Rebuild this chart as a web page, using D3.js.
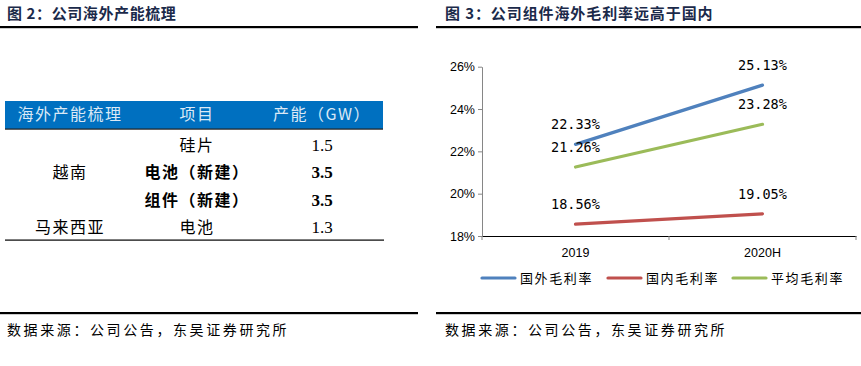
<!DOCTYPE html>
<html><head><meta charset="utf-8">
<script src="https://cdn.jsdelivr.net/npm/d3@7"></script>
<style>
html,body{margin:0;padding:0;background:#fff;}
svg{display:block;}
</style></head>
<body>
<svg id="c" width="861" height="366"></svg>
<script>
// ---- data ----
const leftTitle = "图 2：公司海外产能梳理";
const rightTitle = "图 3：公司组件海外毛利率远高于国内";
const sourceText = "数据来源：公司公告，东吴证券研究所";
const tableHeader = ["海外产能梳理", "项目", "产能（GW）"];
const tableRegions = ["越南", "马来西亚"];
const tableRegionRows = [[0, 2], [3, 3]];
const tableItems = ["硅片", "电池（新建）", "组件（新建）", "电池"];
const tableCapacity = ["1.5", "3.5", "3.5", "1.3"];
const tableBold = [false, true, true, false];

const categories = ["2019", "2020H"];
const seriesNames = ["国外毛利率", "国内毛利率", "平均毛利率"];
const overseas = [22.33, 25.13];
const domestic = [18.56, 19.05];
const average = [21.26, 23.28];
const yTicks = [18, 20, 22, 24, 26];
const seriesColors = ["#4F81BD", "#C0504D", "#9BBB59"];

const svg = d3.select("#c");
const CJK = "'Noto Sans CJK SC', sans-serif";
const titleColor = "#1b2a4a";

// titles & rules
svg.append("text").attr("x", 7).attr("y", 19).text(leftTitle)
  .attr("font-family", CJK).attr("font-weight", "bold").attr("font-size", 15).attr("fill", titleColor).attr("letter-spacing", 0.6);
svg.append("text").attr("x", 445).attr("y", 19).text(rightTitle)
  .attr("font-family", CJK).attr("font-weight", "bold").attr("font-size", 15).attr("fill", titleColor).attr("letter-spacing", 0.9);
svg.append("rect").attr("x", 0).attr("y", 26).attr("width", 418).attr("height", 2.2).attr("fill", "#000");
svg.append("rect").attr("x", 436).attr("y", 26).attr("width", 425).attr("height", 2.2).attr("fill", "#000");
svg.append("rect").attr("x", 0).attr("y", 312).attr("width", 418).attr("height", 2.2).attr("fill", "#000");
svg.append("rect").attr("x", 436).attr("y", 312).attr("width", 425).attr("height", 2.2).attr("fill", "#000");
svg.append("text").attr("x", 7).attr("y", 335).text(sourceText)
  .attr("font-family", CJK).attr("font-size", 14).attr("fill", "#000").attr("letter-spacing", 2.6);
svg.append("text").attr("x", 445).attr("y", 335).text(sourceText)
  .attr("font-family", CJK).attr("font-size", 14).attr("fill", "#000").attr("letter-spacing", 2.6);

// ---- table ----
const tbl = svg.append("g");
const colX = [70, 197, 322];
const rowY = d3.scalePoint().domain(d3.range(tableItems.length)).range([145, 227]);
tbl.append("rect").attr("x", 5).attr("y", 101).attr("width", 378).attr("height", 28).attr("fill", "#0070C0");
tbl.append("rect").attr("x", 5).attr("y", 128.5).attr("width", 378).attr("height", 1.2).attr("fill", "#1f1f1f");
tbl.selectAll("text.h").data(tableHeader).join("text").attr("class", "h")
  .attr("x", (d, i) => colX[i]).attr("y", 120).attr("text-anchor", "middle")
  .attr("font-family", CJK).attr("font-size", 16).attr("fill", "#dbe9f6").attr("letter-spacing", 1.5)
  .text(d => d);
tbl.selectAll("text.it").data(tableItems).join("text").attr("class", "it")
  .attr("x", colX[1]).attr("y", (d, i) => rowY(i) + 6).attr("text-anchor", "middle")
  .attr("font-family", CJK).attr("font-size", 16).attr("font-weight", (d, i) => tableBold[i] ? "bold" : "normal")
  .attr("letter-spacing", 1.5).attr("fill", "#000").text(d => d);
tbl.selectAll("text.cap").data(tableCapacity).join("text").attr("class", "cap")
  .attr("x", colX[2]).attr("y", (d, i) => rowY(i) + 6).attr("text-anchor", "middle")
  .attr("font-family", "'Liberation Serif', serif").attr("font-size", 17).attr("font-weight", (d, i) => tableBold[i] ? "bold" : "normal")
  .attr("fill", "#000").text(d => d);
tbl.selectAll("text.rg").data(tableRegions).join("text").attr("class", "rg")
  .attr("x", colX[0]).attr("y", (d, i) => (rowY(tableRegionRows[i][0]) + rowY(tableRegionRows[i][1])) / 2 + 6)
  .attr("text-anchor", "middle").attr("font-family", CJK).attr("font-size", 16).attr("letter-spacing", 1.5)
  .attr("fill", "#000").text(d => d);
tbl.append("rect").attr("x", 5).attr("y", 239.5).attr("width", 379).attr("height", 1.2).attr("fill", "#000");

// ---- line chart ----
const x = d3.scaleBand().domain(categories).range([482, 856]);
const y = d3.scaleLinear().domain([18, 26]).range([236, 66.7]);
const g = svg.append("g");

const yAxis = g.append("g").attr("transform", "translate(482,0)")
  .call(d3.axisLeft(y).tickValues(yTicks).tickFormat(d => d + "%").tickSize(4).tickSizeOuter(0));
yAxis.select(".domain").attr("stroke", "#868686");
yAxis.selectAll(".tick line").attr("stroke", "#868686");
yAxis.selectAll(".tick text").attr("font-family", "'Liberation Sans', Arial, sans-serif").attr("font-size", 12.5).attr("fill", "#000").attr("x", -7);

const xAxis = g.append("g").attr("transform", "translate(0,236)")
  .call(d3.axisBottom(x).tickSize(0).tickSizeOuter(0));
xAxis.select(".domain").attr("stroke", "#000");
xAxis.selectAll(".tick text").attr("font-family", "'Liberation Sans', Arial, sans-serif").attr("font-size", 12.5).attr("fill", "#000").attr("dy", "0").attr("y", 21);
const bounds = [x.range()[0]].concat(categories.map(c => x(c) + x.bandwidth()));
xAxis.selectAll("line.b").data(bounds).join("line").attr("class", "b")
  .attr("x1", d => d).attr("x2", d => d).attr("y1", 0).attr("y2", 4).attr("stroke", "#868686");

const series = [overseas, domestic, average];
const cx = c => x(c) + x.bandwidth() / 2;
const line = d3.line().x((d, i) => cx(categories[i])).y(d => y(d));
series.forEach((s, k) => {
  g.append("path").datum(s).attr("d", line).attr("fill", "none")
    .attr("stroke", seriesColors[k]).attr("stroke-width", 3.2).attr("stroke-linecap", "round");
  g.selectAll("text.l" + k).data(s).join("text").attr("class", "l" + k)
    .attr("x", (d, i) => cx(categories[i])).attr("y", d => y(d) - 15)
    .attr("text-anchor", "middle").attr("font-family", "'DejaVu Sans Mono', monospace").attr("font-size", 13.5)
    .attr("fill", "#000").text(d => d.toFixed(2) + "%");
});

// legend
const legX = [482, 608, 733];
const leg = g.selectAll("g.leg").data(seriesNames).join("g").attr("class", "leg")
  .attr("transform", (d, i) => `translate(${legX[i]},278)`);
leg.append("line").attr("x1", 0).attr("x2", 33).attr("y1", 0).attr("y2", 0)
  .attr("stroke", (d, i) => seriesColors[i]).attr("stroke-width", 3.2).attr("stroke-linecap", "round");
leg.append("text").attr("x", 38).attr("y", 5).attr("font-family", CJK).attr("font-size", 13)
  .attr("letter-spacing", 1.6).attr("fill", "#000").text(d => d);
</script>
</body></html>
